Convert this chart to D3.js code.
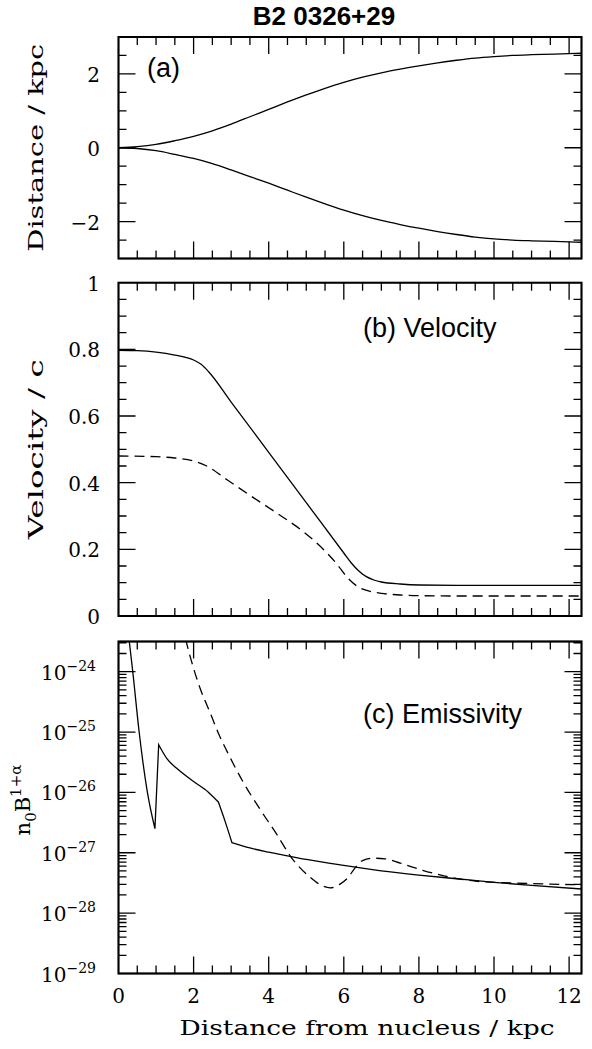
<!DOCTYPE html>
<html><head><meta charset="utf-8">
<script src="https://cdn.jsdelivr.net/npm/d3@7"></script>
<style>body{margin:0;background:#fff} svg{display:block}</style>
</head><body><svg id="c" width="592" height="1049"></svg>
<script>
// ---------- data ----------
const chartTitle = "B2 0326+29";
const xTickValues = [0, 2, 4, 6, 8, 10, 12];
const xMinorValues = [0.5, 1, 1.5, 2.5, 3, 3.5, 4.5, 5, 5.5, 6.5, 7, 7.5, 8.5, 9, 9.5, 10.5, 11, 11.5];

// (a) jet boundaries
const jetX     = [0, 0.5, 1, 1.5, 2, 2.5, 3, 3.5, 4, 4.5, 5, 5.5, 6, 6.5, 7, 7.5, 8, 8.5, 9, 9.5, 10, 10.5, 11, 12, 12.33];
const jetUpper = [0, 0.03, 0.09, 0.19, 0.31, 0.46, 0.64, 0.84, 1.04, 1.24, 1.43, 1.61, 1.77, 1.91, 2.03, 2.13, 2.22, 2.3, 2.37, 2.43, 2.47, 2.5, 2.52, 2.55, 2.56];
const jetLower = [0, -0.02, -0.08, -0.18, -0.29, -0.43, -0.6, -0.78, -0.96, -1.15, -1.34, -1.52, -1.69, -1.84, -1.97, -2.08, -2.18, -2.27, -2.35, -2.42, -2.47, -2.5, -2.52, -2.55, -2.56];
const jetYTicks = [-2, 0, 2];
const jetYMinor = [-3, -2.5, -1.5, -1, -0.5, 0.5, 1, 1.5, 2.5, 3];
const jetYTickLabels = ["\u22122", "0", "2"];

// (b) velocity
const velSolidX = [0, 0.5, 1, 1.5, 2, 2.2, 2.4, 3, 4, 5, 6, 6.2, 6.4, 6.6, 6.8, 7, 7.5, 8, 9, 10, 12.33];
const velSolid  = [0.797, 0.796, 0.792, 0.783, 0.768, 0.755, 0.733, 0.642, 0.491, 0.340, 0.189, 0.159, 0.135, 0.118, 0.108, 0.102, 0.096, 0.093, 0.092, 0.092, 0.092];
const velDashedX = [0, 1, 1.5, 2, 2.35, 2.9, 3.5, 4.2, 4.9, 5.5, 5.8, 6.1, 6.4, 6.7, 7, 7.5, 8, 9, 12.33];
const velDashed  = [0.48, 0.478, 0.474, 0.465, 0.45, 0.408, 0.362, 0.31, 0.255, 0.195, 0.158, 0.115, 0.086, 0.074, 0.068, 0.063, 0.061, 0.06, 0.06];
const velYTicks = [0, 0.2, 0.4, 0.6, 0.8, 1];
const velYMinor = [0.05, 0.1, 0.15, 0.25, 0.3, 0.35, 0.45, 0.5, 0.55, 0.65, 0.7, 0.75, 0.85, 0.9, 0.95];
const velYTickLabels = ["0", "0.2", "0.4", "0.6", "0.8", "1"];

// (c) emissivity, log10 of n0 B^(1+alpha); kink indices mark sharp corners
const emisSolidX   = [0.25, 0.38, 0.55, 0.77, 0.97, 1.07, 1.3, 1.55, 2.0, 2.4, 2.66, 2.85, 3.02, 3.5, 4, 4.5, 5, 6, 7, 8, 9, 10, 11, 12.33];
const emisSolidLog = [-23.3, -24, -25, -26, -26.6, -25.21, -25.45, -25.6, -25.82, -26.0, -26.16, -26.5, -26.83, -26.92, -26.99, -27.05, -27.11, -27.21, -27.3, -27.37, -27.43, -27.49, -27.54, -27.6];
const emisSolidKinks = [4, 5, 10, 12];
const emisDashedX   = [1.7, 1.8, 1.95, 2.17, 2.44, 2.66, 2.89, 3.33, 3.77, 4.22, 4.57, 5.11, 5.4, 5.64, 5.9, 6.1, 6.3, 6.5, 6.8, 7.1, 7.5, 8.1, 8.8, 9.5, 10.5, 11.5, 12.33];
const emisDashedLog = [-23.2, -23.49, -23.84, -24.27, -24.68, -25.02, -25.32, -25.84, -26.28, -26.7, -27.05, -27.41, -27.54, -27.58, -27.52, -27.42, -27.25, -27.13, -27.09, -27.1, -27.17, -27.29, -27.4, -27.47, -27.5, -27.52, -27.53];
const emisDecades = [-29, -28, -27, -26, -25, -24];

// ---------- layout ----------
const svg = d3.select("#c");
const defs = svg.append("defs");
const serif = "'DejaVu Serif', serif";
const sans = "'Liberation Sans', Arial, sans-serif";
const x = d3.scaleLinear().domain([0, 12.33]).range([118.5, 581.5]);
const L = x.range()[0], R = x.range()[1];

const yA = d3.scaleLinear().domain([-3, 3]).range([258.5, 37]);
const yB = d3.scaleLinear().domain([0, 1]).range([616, 282.7]);
const yC = d3.scaleLog().domain([1e-29, Math.pow(10, -23.5)]).range([973.5, 641.5]);

const MAJ = 17, MIN = 8;

[["clipA", yA], ["clipB", yB], ["clipC", yC]].forEach(([id, s]) => {
  const top = s.range()[1], bot = s.range()[0];
  defs.append("clipPath").attr("id", id).append("rect")
    .attr("x", L).attr("y", top).attr("width", R - L).attr("height", bot - top);
});

const curveLayer = svg.append("g");
const frameLayer = svg.append("g");

// frame outline and all ticks as one connected path (outline + inward ticks)
function frame(yScale, yMaj, yMin) {
  const top = yScale.range()[1], bot = yScale.range()[0];
  let d = `M${L},${top}L${R},${top}L${R},${bot}L${L},${bot}Z`;
  [[xTickValues, MAJ], [xMinorValues, MIN]].forEach(([vals, len]) => {
    vals.forEach(v => {
      const px = x(v);
      d += `M${px},${bot}L${px},${bot - len}M${px},${top}L${px},${top + len}`;
    });
  });
  [[yMaj, MAJ], [yMin, MIN]].forEach(([vals, len]) => {
    vals.forEach(v => {
      const py = yScale(v);
      d += `M${L},${py}L${L + len},${py}M${R},${py}L${R - len},${py}`;
    });
  });
  frameLayer.append("path").attr("d", d).attr("fill", "none")
    .attr("stroke", "#000").attr("stroke-width", 1.3);
  frameLayer.append("rect").attr("x", L).attr("y", top).attr("width", R - L).attr("height", bot - top)
    .attr("fill", "none").attr("stroke", "#000").attr("stroke-width", 2);
}

function drawLine(xs, ys, yScale, dashed, clipId, isLog, kinks) {
  const pts = xs.map((v, i) => [v, isLog ? Math.pow(10, ys[i]) : ys[i]]);
  const cuts = [0, ...(kinks || []), pts.length - 1];
  const line = d3.line().x(d => x(d[0])).y(d => yScale(d[1])).curve(d3.curveMonotoneX);
  let dstr = "";
  for (let i = 0; i < cuts.length - 1; i++) {
    let s = line(pts.slice(cuts[i], cuts[i + 1] + 1));
    if (i > 0) s = s.replace(/^M[^A-Za-z]*/, "");
    dstr += s;
  }
  curveLayer.append("g").attr("clip-path", `url(#${clipId})`).append("path").attr("d", dstr)
    .attr("fill", "none").attr("stroke", "#000").attr("stroke-width", 1.3)
    .attr("stroke-dasharray", dashed ? "10,6" : null);
}

function yTitle(txt, cx, cy, len) {
  svg.append("text").attr("transform", `translate(${cx},${cy}) rotate(-90)`)
    .attr("text-anchor", "middle").attr("font-family", serif).attr("font-size", 21)
    .attr("textLength", len).attr("lengthAdjust", "spacingAndGlyphs").text(txt);
}

// title
svg.append("text").attr("x", 324).attr("y", 25).attr("text-anchor", "middle")
  .attr("font-family", sans).attr("font-weight", "bold").attr("font-size", 26).text(chartTitle);

// ----- panel (a)
frame(yA, jetYTicks, jetYMinor);
drawLine(jetX, jetUpper, yA, false, "clipA");
drawLine(jetX, jetLower, yA, false, "clipA");
jetYTicks.forEach((v, i) => {
  svg.append("text").attr("x", 100).attr("y", yA(v) + 8).attr("text-anchor", "end")
    .attr("font-family", serif).attr("font-size", 20).text(jetYTickLabels[i]);
});
yTitle("Distance / kpc", 43, (yA(-3) + yA(3)) / 2, 208);
svg.append("text").attr("x", 147).attr("y", 77).attr("font-family", sans).attr("font-size", 27).text("(a)");

// ----- panel (b)
frame(yB, velYTicks, velYMinor);
drawLine(velSolidX, velSolid, yB, false, "clipB");
drawLine(velDashedX, velDashed, yB, true, "clipB");
velYTicks.forEach((v, i) => {
  svg.append("text").attr("x", 100).attr("y", yB(v) + 8).attr("text-anchor", "end")
    .attr("font-family", serif).attr("font-size", 20).text(velYTickLabels[i]);
});
yTitle("Velocity / c", 43, (yB(0) + yB(1)) / 2, 180);
svg.append("text").attr("x", 363).attr("y", 337).attr("font-family", sans).attr("font-size", 27).text("(b) Velocity");

// ----- panel (c)
const logMinor = [];
emisDecades.forEach(e => { for (let k = 2; k <= 9; k++) { const v = k * Math.pow(10, e); if (v < yC.domain()[1]) logMinor.push(v); } });
frame(yC, emisDecades.map(e => Math.pow(10, e)), logMinor);
drawLine(emisSolidX, emisSolidLog, yC, false, "clipC", true, emisSolidKinks);
drawLine(emisDashedX, emisDashedLog, yC, true, "clipC", true);
emisDecades.forEach(e => {
  const t = svg.append("text").attr("x", 96).attr("y", yC(Math.pow(10, e)) + 8).attr("text-anchor", "end")
    .attr("font-family", serif).attr("font-size", 20);
  t.append("tspan").text("10");
  t.append("tspan").attr("dy", -9).attr("font-size", 14).text("\u2212" + Math.abs(e));
});
const yl = svg.append("text").attr("transform", `translate(30,800) rotate(-90)`)
  .attr("text-anchor", "middle").attr("font-family", serif).attr("font-size", 21);
yl.append("tspan").text("n");
yl.append("tspan").attr("dy", 6).attr("font-size", 15).text("0");
yl.append("tspan").attr("dy", -6).text("B");
yl.append("tspan").attr("dy", -9).attr("font-size", 15).text("1+\u03b1");
svg.append("text").attr("x", 363).attr("y", 723).attr("font-family", sans).attr("font-size", 27).text("(c) Emissivity");

// x tick labels and title
xTickValues.forEach(v => {
  svg.append("text").attr("x", x(v)).attr("y", 1003).attr("text-anchor", "middle")
    .attr("font-family", serif).attr("font-size", 20).text(v);
});
svg.append("text").attr("x", 367).attr("y", 1035).attr("text-anchor", "middle")
  .attr("font-family", serif).attr("font-size", 21)
  .attr("textLength", 375).attr("lengthAdjust", "spacingAndGlyphs").text("Distance from nucleus / kpc");
</script></body></html>
